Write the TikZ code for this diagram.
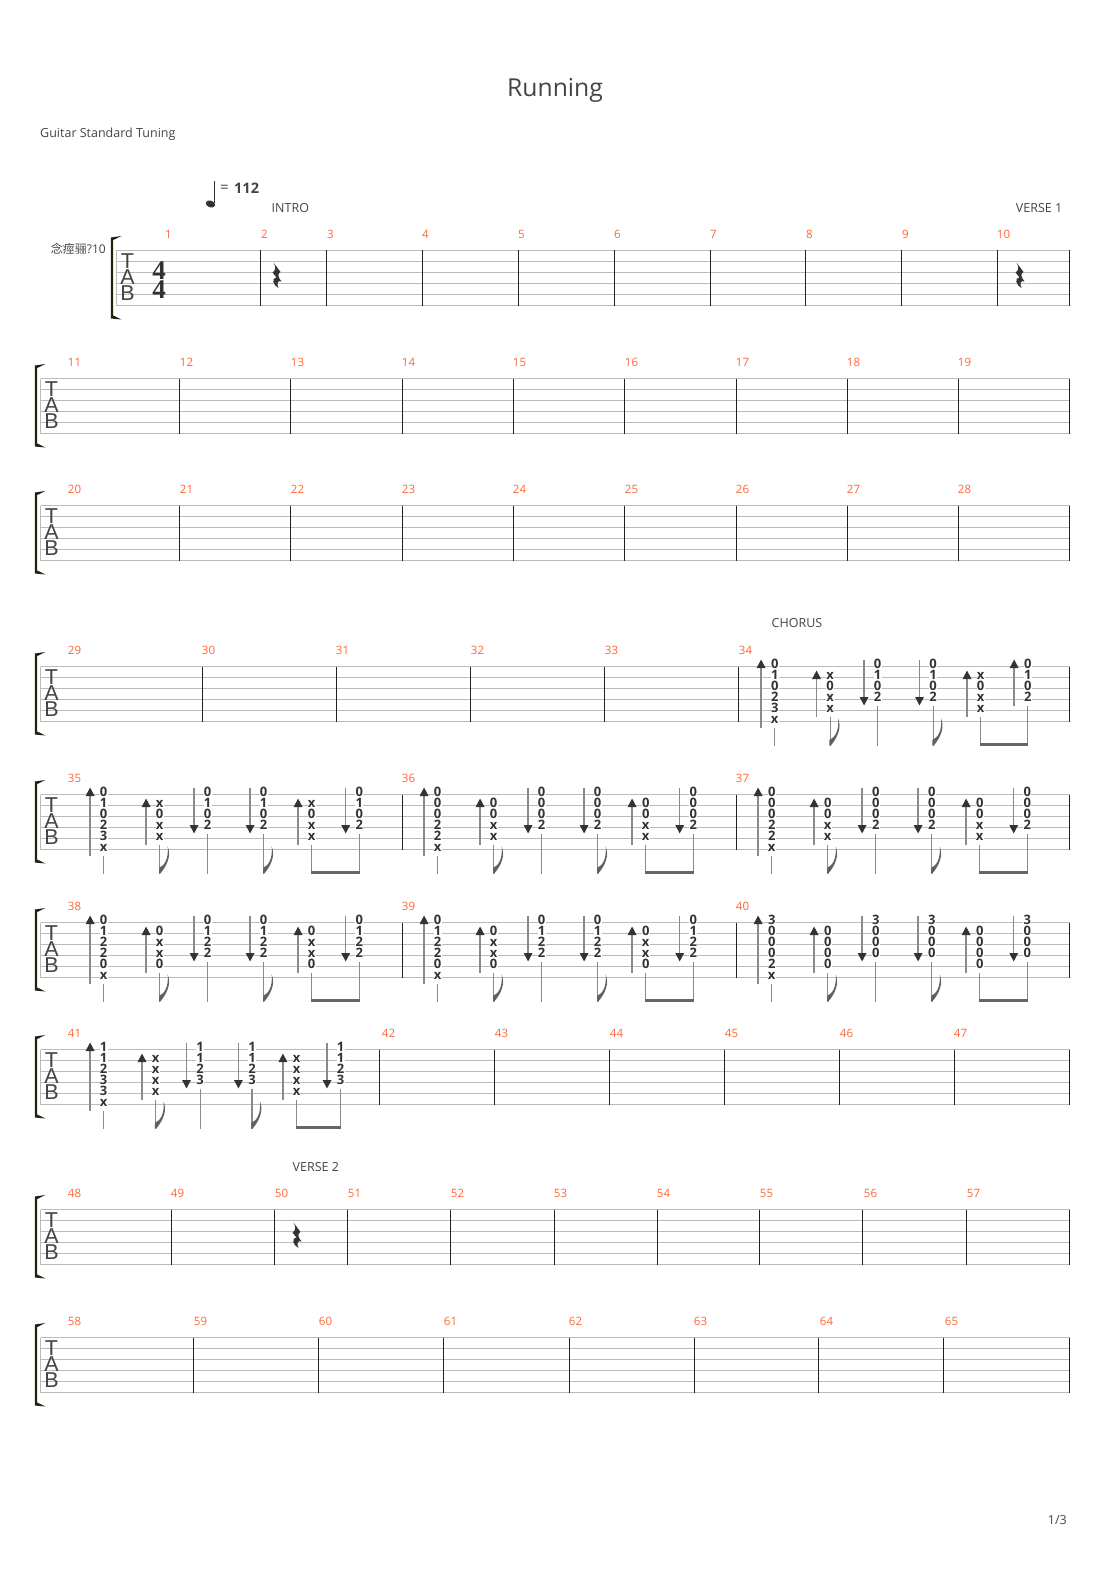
\documentclass[tikz,border=0pt]{standalone}
\usepackage{fontspec}
\usepackage{tikz}
\usetikzlibrary{arrows.meta}
\setmainfont{Open Sans}
\newfontfamily\cjk{Noto Sans CJK SC}
\newfontfamily\serifnum{Liberation Serif}
\newfontfamily\tabfont{Liberation Sans}
\definecolor{inkgray}{HTML}{444444}
\definecolor{linegray}{HTML}{BBBBBB}
\definecolor{bargray}{HTML}{222222}
\definecolor{numorange}{HTML}{FF6633}
\definecolor{brackdark}{HTML}{22220F}
\definecolor{shaftgray}{HTML}{8A8A8A}
\definecolor{headgray}{HTML}{333333}
\newcommand{\pxfont}[1]{\fontsize{#1}{#1}\selectfont}
\tikzset{
    label/.style = {text = inkgray, inner sep = 0pt, font = \pxfont{12.5}},
    barnum/.style = {text = numorange, inner sep = 0pt, font = \pxfont{11.5}},
    tabletter/.style = {text = inkgray, inner sep = 0pt, font = \pxfont{21.5}\tabfont},
    fret/.style = {anchor = base, fill = white, text = headgray, inner sep = 0.2pt, font = \pxfont{13}\bfseries},
    staffline/.style = {draw = linegray, line width = 1pt},
    barline/.style = {draw = bargray, line width = 1pt},
    stemline/.style = {draw = shaftgray, line width = 1.2pt},
    strum/.style = {draw = shaftgray, line width = 1.5pt},
    strum up/.style = {strum, {Triangle[length=8.5pt, width=8.5pt, color=headgray]}-},
    strum down/.style = {strum, -{Triangle[length=8.5pt, width=8.5pt, color=headgray]}},
}
% one staff: first bar number, left x, top y, number positions, bar lines
\newcommand{\tabstaff}[5]{
    \foreach \r in {0,...,5} {
        \draw[staffline] (#2,#3+11*\r) -- (1069,#3+11*\r);
    }
    \draw[draw = linegray, line width = 1.6pt] (#2,#3) -- (#2,#3+55);
    \foreach \b in {#5} {
        \draw[barline] (\b,#3) -- (\b,#3+55);
    }
    \foreach \n [count=\c from #1] in {#4} {
        \node[barnum] (bar\c) at (\n,#3-16) {\c};
    }
    \node[tabletter] (tabT#1) at (#2+11,#3+11) {T};
    \node[tabletter] (tabA#1) at (#2+11,#3+27) {A};
    \node[tabletter] (tabB#1) at (#2+11,#3+43) {B};
    \fill[brackdark] (#2-5.7,#3-13) .. controls (#2-1,#3-13.5) .. (#2+5,#3-14.5) .. controls (#2+1,#3-12) .. (#2-3.3,#3-10.5)
        -- (#2-3.3,#3+65) .. controls (#2+1,#3+66.5) .. (#2+5,#3+69) .. controls (#2-1,#3+68) .. (#2-5.7,#3+68) -- cycle;
}
\newcommand{\quarterrest}[2]{
    \fill[headgray] (#1-3,#2) -- (#1+4,#2+9.5) .. controls (#1+1,#2+11) and (#1+1,#2+14) .. (#1+5,#2+19)
        .. controls (#1+2,#2+18) and (#1-0.5,#2+19) .. (#1+2,#2+25.5) .. controls (#1-3.5,#2+23) and (#1-5.5,#2+15) .. (#1+0,#2+15)
        -- (#1-4,#2+10) .. controls (#1-0.5,#2+8) and (#1-0.5,#2+4) .. (#1-3,#2) -- cycle;
}
% one chord column: x, staff top, up or down, first row, row after last, frets
\newcommand{\strumbeat}[6]{
    \pgfmathsetmacro{\xa}{#1-13.6}
    \pgfmathsetmacro{\ya}{#2+11*#4-7}
    \pgfmathsetmacro{\yb}{#2+11*#5-5}
    \draw[strum #3] (\xa,\ya) -- (\xa,\yb);
    \foreach \d [count=\r from #4] in {#6} {
        \node[fret] (fret\r) at (#1,{#2+11*\r+2.2}) {\d};
    }
    \draw[stemline] (#1,\yb) -- (#1,#2+79);
}
\newcommand{\eighthflag}[2]{
    \fill[shaftgray!70!black] (#1-0.7,#2+79) -- (#1-0.7,#2+73.5) .. controls (#1+5,#2+71) and (#1+9,#2+64) .. (#1+8,#2+52)
        .. controls (#1+11.5,#2+61) and (#1+8,#2+70) .. (#1+0.7,#2+79) -- cycle;
}
% one measure of strums: number, x, staff top, spacing, last direction, frets
\newcommand{\strumbar}[8]{
    \pgfmathsetmacro{\xb}{#2+56*#4}
    \pgfmathsetmacro{\xc}{#2+104*#4}
    \pgfmathsetmacro{\xd}{#2+160*#4}
    \pgfmathsetmacro{\xe}{#2+208*#4}
    \pgfmathsetmacro{\xf}{#2+255.6*#4}
    \strumbeat{#2}{#3}{up}{0}{6}{#6}
    \strumbeat{\xb}{#3}{up}{1}{5}{#7}
    \strumbeat{\xc}{#3}{down}{0}{4}{#8}
    \strumbeat{\xd}{#3}{down}{0}{4}{#8}
    \strumbeat{\xe}{#3}{up}{1}{5}{#7}
    \strumbeat{\xf}{#3}{#5}{0}{4}{#8}
    \eighthflag{\xb}{#3}
    \eighthflag{\xd}{#3}
    \draw[draw = shaftgray!75!black, line width = 2.8pt] (\xe-0.6,#3+77.7) coordinate (beamL#1) -- (\xf+0.6,#3+77.7) coordinate (beamR#1);
}

\begin{document}
\begin{tikzpicture}[x=1pt,y=-1pt]
    \useasboundingbox (0,0) rectangle (1110,1570);
    \begin{scope}[shift={(0.5,0.5)}]

    \node[label, font = \pxfont{24.7}] (title) at (554.5,89.5) {Running};
    \node[label, anchor = west] (tuning) at (39.5,133.5) {Guitar Standard Tuning};

    \fill[headgray, rotate around={-20:(210,203.5)}] (210,203.5) ellipse (4.8 and 3.4);
    \draw[draw = headgray, line width = 1pt] (214.4,181) -- (214.4,203);
    \node[label, font = \pxfont{15}] (tempoeq) at (224,188) {=};
    \node[label, anchor = west, font = \pxfont{14.5}\bfseries] (tempo) at (233.5,188) {112};

    \node[label, anchor = west] (intro) at (271,207.5) {INTRO};
    \node[label, anchor = east] (verseone) at (1062,207.5) {VERSE 1};
    \node[label, anchor = west] (chorus) at (771,623) {CHORUS};
    \node[label, anchor = west] (versetwo) at (292,1167) {VERSE 2};
    \node[label, anchor = east] (page) at (1066.5,1520) {1/3};
    \node[label, anchor = east, font = \pxfont{12}] (track) at (105.5,248.5) {{\cjk 念痙骊}?10};

    \tabstaff{1}{116}{250}{168,264,330,425,521,617,713,809,905,1003}{260,326,422,518,614,710,805,901,997,1069}
    \tabstaff{11}{40}{378}{74,186,297,408,519,631,742,853,964}{179,290,402,513,624,736,847,958,1069}
    \tabstaff{20}{40}{505}{74,186,297,408,519,631,742,853,964}{179,290,402,513,624,736,847,958,1069}
    \tabstaff{29}{40}{666}{74,208,342,477,611,745}{202,336,470,604,738,1069}
    \tabstaff{35}{40}{794}{74,408,742}{402,736,1069}
    \tabstaff{38}{40}{922}{74,408,742}{402,736,1069}
    \tabstaff{41}{40}{1049}{74,388,501,616,731,846,960}{379,494,609,724,839,954,1069}
    \tabstaff{48}{40}{1209}{74,177,281,354,457,560,663,766,870,973}{171,274,347,450,554,657,759,862,966,1069}
    \tabstaff{58}{40}{1337}{74,200,325,450,575,700,826,951}{193,318,443,569,694,818,943,1069}

    \node[text = headgray, inner sep = 0pt, font = \pxfont{27}\serifnum\bfseries] (sigtop) at (158.5,270) {4};
    \node[text = headgray, inner sep = 0pt, font = \pxfont{27}\serifnum\bfseries] (sigbottom) at (158.5,289) {4};

    \quarterrest{276}{262}
    \quarterrest{1019}{262}
    \quarterrest{296}{1222}

    \strumbar{34}{774.2}{666}{0.99}{up}{0,1,0,2,3,x}{x,0,x,x}{0,1,0,2}
    \strumbar{35}{103.2}{794}{1}{down}{0,1,0,2,3,x}{x,0,x,x}{0,1,0,2}
    \strumbar{36}{437.2}{794}{1}{down}{0,0,0,2,2,x}{0,0,x,x}{0,0,0,2}
    \strumbar{37}{771.2}{794}{1}{down}{0,0,0,2,2,x}{0,0,x,x}{0,0,0,2}
    \strumbar{38}{103.2}{922}{1}{down}{0,1,2,2,0,x}{0,x,x,0}{0,1,2,2}
    \strumbar{39}{437.2}{922}{1}{down}{0,1,2,2,0,x}{0,x,x,0}{0,1,2,2}
    \strumbar{40}{771.2}{922}{1}{down}{3,0,0,0,2,x}{0,0,0,0}{3,0,0,0}
    \strumbar{41}{103.2}{1049}{0.927}{down}{1,1,2,3,3,x}{x,x,x,x}{1,1,2,3}
    \end{scope}
\end{tikzpicture}
\end{document}
